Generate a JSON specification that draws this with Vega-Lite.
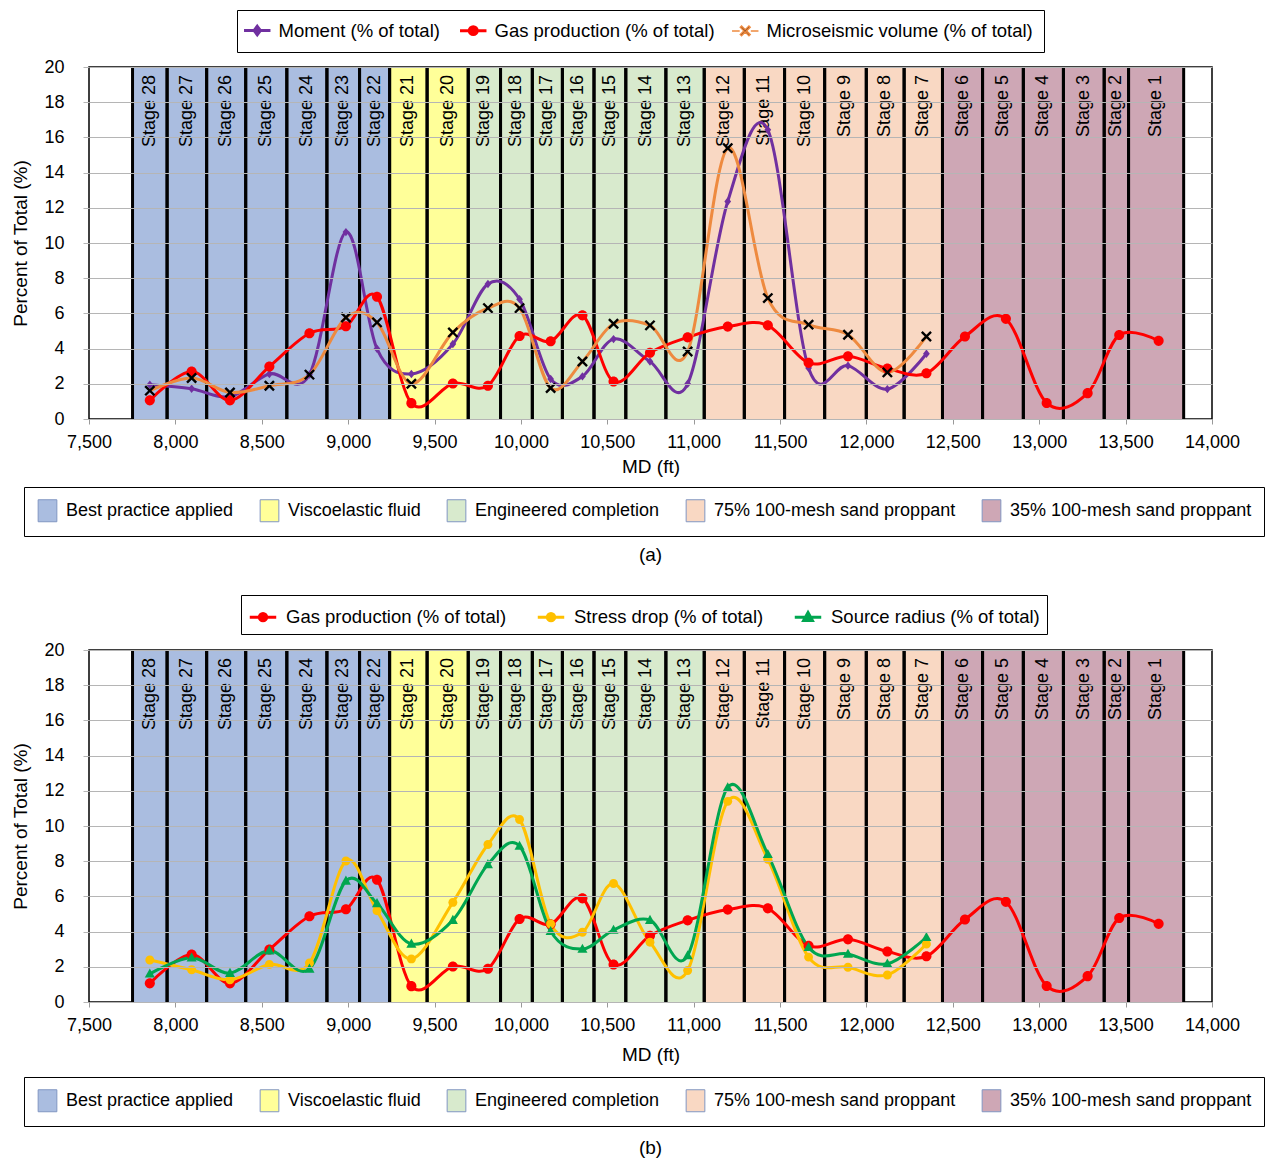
{
  "$schema": "https://vega.github.io/schema/vega-lite/v6.json",
  "background": "white",
  "padding": {"left": 11, "top": 8, "right": 0, "bottom": 0},
  "spacing": 27,
  "datasets": {
    "stages": [
      {"stage": "Stage 28", "start": 7752, "end": 7952, "mid": 7852, "cat": "Best practice applied"},
      {"stage": "Stage 27", "start": 7952, "end": 8181, "mid": 8066, "cat": "Best practice applied"},
      {"stage": "Stage 26", "start": 8181, "end": 8407, "mid": 8294, "cat": "Best practice applied"},
      {"stage": "Stage 25", "start": 8407, "end": 8645, "mid": 8526, "cat": "Best practice applied"},
      {"stage": "Stage 24", "start": 8645, "end": 8877, "mid": 8761, "cat": "Best practice applied"},
      {"stage": "Stage 23", "start": 8877, "end": 9066, "mid": 8971, "cat": "Best practice applied"},
      {"stage": "Stage 22", "start": 9066, "end": 9240, "mid": 9153, "cat": "Best practice applied"},
      {"stage": "Stage 21", "start": 9240, "end": 9457, "mid": 9348, "cat": "Viscoelastic fluid"},
      {"stage": "Stage 20", "start": 9457, "end": 9695, "mid": 9576, "cat": "Viscoelastic fluid"},
      {"stage": "Stage 19", "start": 9695, "end": 9882, "mid": 9788, "cat": "Engineered completion"},
      {"stage": "Stage 18", "start": 9882, "end": 10066, "mid": 9974, "cat": "Engineered completion"},
      {"stage": "Stage 17", "start": 10066, "end": 10240, "mid": 10153, "cat": "Engineered completion"},
      {"stage": "Stage 16", "start": 10240, "end": 10423, "mid": 10331, "cat": "Engineered completion"},
      {"stage": "Stage 15", "start": 10423, "end": 10607, "mid": 10515, "cat": "Engineered completion"},
      {"stage": "Stage 14", "start": 10607, "end": 10839, "mid": 10723, "cat": "Engineered completion"},
      {"stage": "Stage 13", "start": 10839, "end": 11061, "mid": 10950, "cat": "Engineered completion"},
      {"stage": "Stage 12", "start": 11061, "end": 11293, "mid": 11177, "cat": "75% 100-mesh sand proppant"},
      {"stage": "Stage 11", "start": 11293, "end": 11526, "mid": 11409, "cat": "75% 100-mesh sand proppant"},
      {"stage": "Stage 10", "start": 11526, "end": 11758, "mid": 11642, "cat": "75% 100-mesh sand proppant"},
      {"stage": "Stage 9", "start": 11758, "end": 11999, "mid": 11878, "cat": "75% 100-mesh sand proppant"},
      {"stage": "Stage 8", "start": 11999, "end": 12218, "mid": 12108, "cat": "75% 100-mesh sand proppant"},
      {"stage": "Stage 7", "start": 12218, "end": 12440, "mid": 12329, "cat": "75% 100-mesh sand proppant"},
      {"stage": "Stage 6", "start": 12440, "end": 12672, "mid": 12556, "cat": "35% 100-mesh sand proppant"},
      {"stage": "Stage 5", "start": 12672, "end": 12908, "mid": 12790, "cat": "35% 100-mesh sand proppant"},
      {"stage": "Stage 4", "start": 12908, "end": 13140, "mid": 13024, "cat": "35% 100-mesh sand proppant"},
      {"stage": "Stage 3", "start": 13140, "end": 13376, "mid": 13258, "cat": "35% 100-mesh sand proppant"},
      {"stage": "Stage 2", "start": 13376, "end": 13517, "mid": 13446, "cat": "35% 100-mesh sand proppant"},
      {"stage": "Stage 1", "start": 13517, "end": 13836, "mid": 13676, "cat": "35% 100-mesh sand proppant"}
    ],
    "measures": [
      {"stage": 28, "md": 7852, "Moment (% of total)": 1.95, "Gas production (% of total)": 1.06, "Microseismic volume (% of total)": 1.61, "Stress drop (% of total)": 2.39, "Source radius (% of total)": 1.6},
      {"stage": 27, "md": 8094, "Moment (% of total)": 1.72, "Gas production (% of total)": 2.7, "Microseismic volume (% of total)": 2.33, "Stress drop (% of total)": 1.83, "Source radius (% of total)": 2.51},
      {"stage": 26, "md": 8316, "Moment (% of total)": 1.27, "Gas production (% of total)": 1.06, "Microseismic volume (% of total)": 1.51, "Stress drop (% of total)": 1.26, "Source radius (% of total)": 1.64},
      {"stage": 25, "md": 8544, "Moment (% of total)": 2.56, "Gas production (% of total)": 2.98, "Microseismic volume (% of total)": 1.89, "Stress drop (% of total)": 2.13, "Source radius (% of total)": 2.92},
      {"stage": 24, "md": 8776, "Moment (% of total)": 2.52, "Gas production (% of total)": 4.87, "Microseismic volume (% of total)": 2.52, "Stress drop (% of total)": 2.21, "Source radius (% of total)": 1.88},
      {"stage": 23, "md": 8987, "Moment (% of total)": 10.62, "Gas production (% of total)": 5.27, "Microseismic volume (% of total)": 5.77, "Stress drop (% of total)": 8.01, "Source radius (% of total)": 6.88},
      {"stage": 22, "md": 9167, "Moment (% of total)": 3.99, "Gas production (% of total)": 6.95, "Microseismic volume (% of total)": 5.49, "Stress drop (% of total)": 5.18, "Source radius (% of total)": 5.6},
      {"stage": 21, "md": 9366, "Moment (% of total)": 2.56, "Gas production (% of total)": 0.9, "Microseismic volume (% of total)": 2.0, "Stress drop (% of total)": 2.45, "Source radius (% of total)": 3.3},
      {"stage": 20, "md": 9606, "Moment (% of total)": 4.26, "Gas production (% of total)": 2.02, "Microseismic volume (% of total)": 4.92, "Stress drop (% of total)": 5.66, "Source radius (% of total)": 4.65},
      {"stage": 19, "md": 9809, "Moment (% of total)": 7.67, "Gas production (% of total)": 1.89, "Microseismic volume (% of total)": 6.3, "Stress drop (% of total)": 8.95, "Source radius (% of total)": 7.82},
      {"stage": 18, "md": 9992, "Moment (% of total)": 6.81, "Gas production (% of total)": 4.72, "Microseismic volume (% of total)": 6.3, "Stress drop (% of total)": 10.37, "Source radius (% of total)": 8.86},
      {"stage": 17, "md": 10172, "Moment (% of total)": 2.27, "Gas production (% of total)": 4.42, "Microseismic volume (% of total)": 1.76, "Stress drop (% of total)": 4.43, "Source radius (% of total)": 4.02},
      {"stage": 16, "md": 10356, "Moment (% of total)": 2.42, "Gas production (% of total)": 5.89, "Microseismic volume (% of total)": 3.27, "Stress drop (% of total)": 3.96, "Source radius (% of total)": 3.01},
      {"stage": 15, "md": 10536, "Moment (% of total)": 4.54, "Gas production (% of total)": 2.13, "Microseismic volume (% of total)": 5.41, "Stress drop (% of total)": 6.73, "Source radius (% of total)": 4.09},
      {"stage": 14, "md": 10747, "Moment (% of total)": 3.27, "Gas production (% of total)": 3.76, "Microseismic volume (% of total)": 5.32, "Stress drop (% of total)": 3.39, "Source radius (% of total)": 4.65},
      {"stage": 13, "md": 10965, "Moment (% of total)": 2.0, "Gas production (% of total)": 4.64, "Microseismic volume (% of total)": 3.84, "Stress drop (% of total)": 1.79, "Source radius (% of total)": 2.64},
      {"stage": 12, "md": 11197, "Moment (% of total)": 12.36, "Gas production (% of total)": 5.25, "Microseismic volume (% of total)": 15.39, "Stress drop (% of total)": 11.4, "Source radius (% of total)": 12.19},
      {"stage": 11, "md": 11429, "Moment (% of total)": 16.43, "Gas production (% of total)": 5.32, "Microseismic volume (% of total)": 6.87, "Stress drop (% of total)": 8.11, "Source radius (% of total)": 8.39},
      {"stage": 10, "md": 11665, "Moment (% of total)": 2.9, "Gas production (% of total)": 3.19, "Microseismic volume (% of total)": 5.36, "Stress drop (% of total)": 2.55, "Source radius (% of total)": 3.11},
      {"stage": 9, "md": 11893, "Moment (% of total)": 3.03, "Gas production (% of total)": 3.56, "Microseismic volume (% of total)": 4.79, "Stress drop (% of total)": 1.98, "Source radius (% of total)": 2.73},
      {"stage": 8, "md": 12121, "Moment (% of total)": 1.7, "Gas production (% of total)": 2.87, "Microseismic volume (% of total)": 2.65, "Stress drop (% of total)": 1.54, "Source radius (% of total)": 2.17},
      {"stage": 7, "md": 12347, "Moment (% of total)": 3.71, "Gas production (% of total)": 2.6, "Microseismic volume (% of total)": 4.69, "Stress drop (% of total)": 3.3, "Source radius (% of total)": 3.68},
      {"stage": 6, "md": 12570, "Gas production (% of total)": 4.69},
      {"stage": 5, "md": 12807, "Gas production (% of total)": 5.69},
      {"stage": 4, "md": 13043, "Gas production (% of total)": 0.91},
      {"stage": 3, "md": 13280, "Gas production (% of total)": 1.47},
      {"stage": 2, "md": 13463, "Gas production (% of total)": 4.77},
      {"stage": 1, "md": 13691, "Gas production (% of total)": 4.44}
    ]
  },
  "vconcat": [
    {
      "width": 1123,
      "height": 352,
      "title": {"text": "(a)", "orient": "bottom", "anchor": "middle", "frame": "group", "offset": 9},
      "layer": [
        {
          "data": {"name": "stages"},
          "mark": {"type": "rect"},
          "encoding": {
            "x": {"field": "start", "type": "quantitative", "title": "MD (ft)", "scale": {"domain": [7500, 14000], "nice": false, "zero": false}, "axis": {"values": [7500, 8000, 8500, 9000, 9500, 10000, 10500, 11000, 11500, 12000, 12500, 13000, 13500, 14000], "tickCount": 30, "format": ",.0f", "labelOverlap": false, "labelFlush": false}},
            "x2": {"field": "end"},
            "y": {"datum": 0, "type": "quantitative", "title": "Percent of Total (%)", "scale": {"domain": [0, 20], "nice": false}, "axis": {"values": [0, 2, 4, 6, 8, 10, 12, 14, 16, 18, 20], "tickCount": 20, "format": ".0f", "labelOverlap": false, "labelFlush": false, "zindex": 1}},
            "y2": {"datum": 20},
            "fill": {
              "field": "cat", "type": "nominal",
              "scale": {"domain": ["Best practice applied", "Viscoelastic fluid", "Engineered completion", "75% 100-mesh sand proppant", "35% 100-mesh sand proppant"], "range": ["#aabde0", "#ffff99", "#d8eacd", "#f9d8c3", "#cea7b5"]},
              "legend": {"title": null, "orient": "none", "legendX": -65, "legendY": 420, "direction": "horizontal", "strokeColor": "black", "padding": 12, "symbolType": "M-0.85,-1H0.85V1H-0.85Z", "symbolSize": 484, "symbolStrokeColor": "#8196c2", "symbolStrokeWidth": 1, "labelOffset": 7, "columnPadding": 24, "symbolOpacity": 1}
            }
          }
        },
        {
          "data": {"name": "stages"},
          "mark": {"type": "rule", "color": "black", "strokeWidth": 3},
          "encoding": {"x": {"field": "start", "type": "quantitative", "title": "MD (ft)"}}
        },
        {
          "data": {"name": "stages"},
          "mark": {"type": "rule", "color": "black", "strokeWidth": 3},
          "encoding": {"x": {"field": "end", "type": "quantitative", "title": "MD (ft)"}}
        },
        {
          "data": {"name": "stages"},
          "mark": {"type": "text", "angle": 270, "align": "right", "baseline": "middle", "fontSize": 18, "color": "black"},
          "encoding": {
            "x": {"field": "mid", "type": "quantitative", "title": "MD (ft)"},
            "y": {"datum": 19.55, "type": "quantitative"},
            "text": {"field": "stage"}
          }
        },
        {
          "data": {"name": "measures"},
          "transform": [{"fold": ["Moment (% of total)", "Gas production (% of total)", "Microseismic volume (% of total)"], "as": ["series", "value"]}],
          "mark": {"type": "line", "interpolate": "cardinal", "tension": 0},
          "encoding": {
            "x": {"field": "md", "type": "quantitative", "title": "MD (ft)"},
            "y": {"field": "value", "type": "quantitative", "title": "Percent of Total (%)"},
            "stroke": {
              "field": "series", "type": "nominal",
              "sort": ["Moment (% of total)", "Gas production (% of total)", "Microseismic volume (% of total)"],
              "scale": {"range": ["#7030a0", "#ff0000", "#ee8a3f"]},
              "legend": {
                "title": null, "orient": "none", "legendX": 148, "legendY": -57, "direction": "horizontal", "strokeColor": "black", "padding": 11, "symbolType": "M-1,0H1", "symbolSize": 700, "symbolStrokeWidth": 3, "labelOffset": 12, "columnPadding": 14, "labelFontSize": 18.5,
                "encode": {
                  "symbols": {
                    "update": {
                      "shape": {"signal": "datum.value === 'Moment (% of total)' ? 'M-1,0H1M0,-0.32L0.24,0L0,0.32L-0.24,0Z' : datum.value === 'Gas production (% of total)' ? 'M-1,0H1M0.3,0A0.3,0.3 0 1,1 -0.3,0A0.3,0.3 0 1,1 0.3,0Z' : 'M-1,0H-0.42M0.42,0H1M0,-0.09L0.28,-0.37L0.37,-0.28L0.09,0L0.37,0.28L0.28,0.37L0,0.09L-0.28,0.37L-0.37,0.28L-0.09,0L-0.37,-0.28L-0.28,-0.37Z'"},
                      "fill": {"signal": "datum.value === 'Moment (% of total)' ? '#7030a0' : datum.value === 'Gas production (% of total)' ? '#ff0000' : '#000000'"},
                      "strokeWidth": {"signal": "datum.value === 'Microseismic volume (% of total)' ? 1.5 : 3"},
                      "opacity": {"value": 1}
                    }
                  }
                }
              }
            },
            "strokeWidth": {
              "field": "series", "type": "nominal",
              "scale": {"domain": ["Moment (% of total)", "Gas production (% of total)", "Microseismic volume (% of total)"], "range": [3, 3, 2]},
              "legend": null
            }
          }
        },
        {
          "data": {"name": "measures"},
          "transform": [
            {"fold": ["Moment (% of total)", "Gas production (% of total)", "Microseismic volume (% of total)"], "as": ["series", "value"]},
            {"filter": "isValid(datum.value)"}
          ],
          "mark": {"type": "point", "filled": true, "opacity": 1, "size": 784},
          "encoding": {
            "x": {"field": "md", "type": "quantitative", "title": "MD (ft)"},
            "y": {"field": "value", "type": "quantitative", "title": "Percent of Total (%)"},
            "color": {
              "field": "series", "type": "nominal",
              "sort": ["Moment (% of total)", "Gas production (% of total)", "Microseismic volume (% of total)"],
              "scale": {"range": ["#7030a0", "#ff0000", "#000000"]},
              "legend": null
            },
            "shape": {
              "field": "series", "type": "nominal",
              "sort": ["Moment (% of total)", "Gas production (% of total)", "Microseismic volume (% of total)"],
              "scale": {"range": ["M0,-0.3L0.24,0L0,0.3L-0.24,0Z", "M0.36,0A0.36,0.36 0 1,1 -0.36,0A0.36,0.36 0 1,1 0.36,0Z", "M0,-0.12L0.27,-0.39L0.39,-0.27L0.12,0L0.39,0.27L0.27,0.39L0,0.12L-0.27,0.39L-0.39,0.27L-0.12,0L-0.39,-0.27L-0.27,-0.39Z"]},
              "legend": null
            }
          }
        }
      ]
    },
    {
      "width": 1123,
      "height": 352,
      "title": {"text": "(b)", "orient": "bottom", "anchor": "middle", "frame": "group", "offset": 12},
      "layer": [
        {
          "data": {"name": "stages"},
          "mark": {"type": "rect"},
          "encoding": {
            "x": {"field": "start", "type": "quantitative", "title": "MD (ft)", "scale": {"domain": [7500, 14000], "nice": false, "zero": false}, "axis": {"values": [7500, 8000, 8500, 9000, 9500, 10000, 10500, 11000, 11500, 12000, 12500, 13000, 13500, 14000], "tickCount": 30, "format": ",.0f", "labelOverlap": false, "labelFlush": false, "titlePadding": 11}},
            "x2": {"field": "end"},
            "y": {"datum": 0, "type": "quantitative", "title": "Percent of Total (%)", "scale": {"domain": [0, 20], "nice": false}, "axis": {"values": [0, 2, 4, 6, 8, 10, 12, 14, 16, 18, 20], "tickCount": 20, "format": ".0f", "labelOverlap": false, "labelFlush": false, "zindex": 1}},
            "y2": {"datum": 20},
            "fill": {
              "field": "cat", "type": "nominal",
              "scale": {"domain": ["Best practice applied", "Viscoelastic fluid", "Engineered completion", "75% 100-mesh sand proppant", "35% 100-mesh sand proppant"], "range": ["#aabde0", "#ffff99", "#d8eacd", "#f9d8c3", "#cea7b5"]},
              "legend": {"title": null, "orient": "none", "legendX": -65, "legendY": 427, "direction": "horizontal", "strokeColor": "black", "padding": 12, "symbolType": "M-0.85,-1H0.85V1H-0.85Z", "symbolSize": 484, "symbolStrokeColor": "#8196c2", "symbolStrokeWidth": 1, "labelOffset": 7, "columnPadding": 24, "symbolOpacity": 1}
            }
          }
        },
        {
          "data": {"name": "stages"},
          "mark": {"type": "rule", "color": "black", "strokeWidth": 3},
          "encoding": {"x": {"field": "start", "type": "quantitative", "title": "MD (ft)"}}
        },
        {
          "data": {"name": "stages"},
          "mark": {"type": "rule", "color": "black", "strokeWidth": 3},
          "encoding": {"x": {"field": "end", "type": "quantitative", "title": "MD (ft)"}}
        },
        {
          "data": {"name": "stages"},
          "mark": {"type": "text", "angle": 270, "align": "right", "baseline": "middle", "fontSize": 18, "color": "black"},
          "encoding": {
            "x": {"field": "mid", "type": "quantitative", "title": "MD (ft)"},
            "y": {"datum": 19.55, "type": "quantitative"},
            "text": {"field": "stage"}
          }
        },
        {
          "data": {"name": "measures"},
          "transform": [{"fold": ["Gas production (% of total)", "Stress drop (% of total)", "Source radius (% of total)"], "as": ["series", "value"]}],
          "mark": {"type": "line", "interpolate": "cardinal", "tension": 0, "strokeWidth": 3},
          "encoding": {
            "x": {"field": "md", "type": "quantitative", "title": "MD (ft)"},
            "y": {"field": "value", "type": "quantitative", "title": "Percent of Total (%)"},
            "stroke": {
              "field": "series", "type": "nominal",
              "sort": ["Gas production (% of total)", "Stress drop (% of total)", "Source radius (% of total)"],
              "scale": {"range": ["#ff0000", "#ffc000", "#00a650"]},
              "legend": {
                "title": null, "orient": "none", "legendX": 152, "legendY": -55, "direction": "horizontal", "strokeColor": "black", "padding": 7, "symbolType": "M-1,0H1", "symbolSize": 700, "symbolStrokeWidth": 3, "labelOffset": 8, "columnPadding": 24, "labelFontSize": 18.5,
                "encode": {
                  "symbols": {
                    "update": {
                      "shape": {"signal": "datum.value === 'Source radius (% of total)' ? 'M-1,0H1M0,-0.36L0.33,0.24L-0.33,0.24Z' : 'M-1,0H1M0.28,0A0.28,0.28 0 1,1 -0.28,0A0.28,0.28 0 1,1 0.28,0Z'"},
                      "fill": {"signal": "datum.value === 'Gas production (% of total)' ? '#ff0000' : datum.value === 'Stress drop (% of total)' ? '#ffc000' : '#00a650'"},
                      "opacity": {"value": 1}
                    }
                  }
                }
              }
            }
          }
        },
        {
          "data": {"name": "measures"},
          "transform": [
            {"fold": ["Gas production (% of total)", "Stress drop (% of total)", "Source radius (% of total)"], "as": ["series", "value"]},
            {"filter": "isValid(datum.value)"}
          ],
          "mark": {"type": "point", "filled": true, "opacity": 1, "size": 784},
          "encoding": {
            "x": {"field": "md", "type": "quantitative", "title": "MD (ft)"},
            "y": {"field": "value", "type": "quantitative", "title": "Percent of Total (%)"},
            "color": {
              "field": "series", "type": "nominal",
              "sort": ["Gas production (% of total)", "Stress drop (% of total)", "Source radius (% of total)"],
              "scale": {"range": ["#ff0000", "#ffc000", "#00a650"]},
              "legend": null
            },
            "shape": {
              "field": "series", "type": "nominal",
              "sort": ["Gas production (% of total)", "Stress drop (% of total)", "Source radius (% of total)"],
              "scale": {"range": ["M0.36,0A0.36,0.36 0 1,1 -0.36,0A0.36,0.36 0 1,1 0.36,0Z", "M0.32,0A0.32,0.32 0 1,1 -0.32,0A0.32,0.32 0 1,1 0.32,0Z", "M0,-0.38L0.36,0.27L-0.36,0.27Z"]},
              "legend": null
            }
          }
        }
      ]
    }
  ],
  "resolve": {
    "scale": {"x": "independent", "y": "independent", "fill": "independent", "stroke": "independent", "color": "independent", "shape": "independent", "strokeWidth": "independent"},
    "legend": {"fill": "independent", "stroke": "independent"}
  },
  "config": {
    "font": "Liberation Sans",
    "view": {"stroke": "black", "strokeWidth": 1.5},
    "axis": {"labelColor": "black", "titleColor": "black", "titleFontWeight": "normal", "labelFontSize": 18, "titleFontSize": 19, "labelFont": "Liberation Sans", "titleFont": "Liberation Sans"},
    "axisX": {"grid": false, "domain": false, "ticks": true, "tickColor": "#999999", "tickSize": 5, "labelPadding": 9, "titlePadding": 6, "labelFlush": false},
    "axisY": {"grid": true, "gridColor": "#b5b5b5", "gridWidth": 1, "domain": false, "tickColor": "#b5b5b5", "tickSize": 6, "labelPadding": 19, "titlePadding": 13, "labelOverlap": false, "labelFlush": false},
    "legend": {"labelFontSize": 18, "labelColor": "black", "labelLimit": 400, "labelFont": "Liberation Sans"},
    "title": {"fontSize": 19, "fontWeight": "normal", "color": "black", "font": "Liberation Sans"}
  }
}
